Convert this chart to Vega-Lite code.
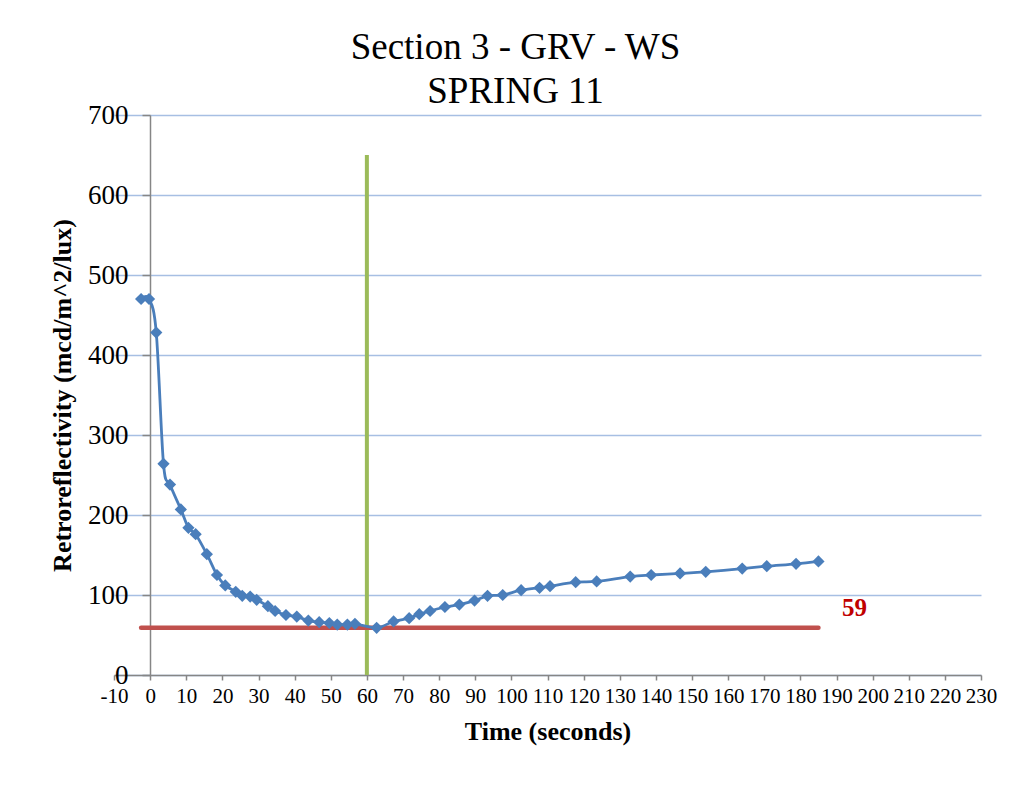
{
  "$schema": "https://vega.github.io/schema/vega-lite/v6.json",
  "width": 867,
  "height": 560,
  "autosize": {"type": "none"},
  "padding": {"left": 114, "top": 115, "right": 32, "bottom": 110},
  "background": "white",
  "config": {"font": "Liberation Serif", "view": {"stroke": null}},
  "title": {
    "text": ["Section 3 - GRV - WS", "SPRING 11"],
    "fontSize": 37,
    "fontWeight": "normal",
    "lineHeight": 44,
    "color": "black",
    "anchor": "middle",
    "dx": -32,
    "offset": -10
  },
  "datasets": {
    "curve": [
      {"t": -2.5, "v": 470}, {"t": -0.3, "v": 470}, {"t": 1.7, "v": 428}, {"t": 3.7, "v": 264},
      {"t": 5.5, "v": 238}, {"t": 8.5, "v": 207}, {"t": 10.6, "v": 184}, {"t": 12.6, "v": 176},
      {"t": 15.7, "v": 151}, {"t": 18.5, "v": 125}, {"t": 20.8, "v": 112}, {"t": 23.7, "v": 104},
      {"t": 25.5, "v": 99}, {"t": 27.7, "v": 98}, {"t": 29.5, "v": 94}, {"t": 32.6, "v": 86},
      {"t": 34.6, "v": 80}, {"t": 37.6, "v": 75}, {"t": 40.6, "v": 73}, {"t": 43.8, "v": 68},
      {"t": 46.8, "v": 66}, {"t": 49.6, "v": 65}, {"t": 51.8, "v": 63}, {"t": 54.6, "v": 63},
      {"t": 56.7, "v": 64}, {"t": 62.7, "v": 59}, {"t": 67.4, "v": 67}, {"t": 71.7, "v": 71},
      {"t": 74.5, "v": 76}, {"t": 77.5, "v": 80}, {"t": 81.6, "v": 85}, {"t": 85.6, "v": 88},
      {"t": 89.8, "v": 93}, {"t": 93.4, "v": 99}, {"t": 97.6, "v": 100}, {"t": 102.7, "v": 106},
      {"t": 107.8, "v": 109}, {"t": 110.7, "v": 111}, {"t": 117.8, "v": 116}, {"t": 123.6, "v": 117},
      {"t": 132.9, "v": 123}, {"t": 138.7, "v": 125}, {"t": 146.7, "v": 127}, {"t": 153.8, "v": 129},
      {"t": 163.9, "v": 133}, {"t": 170.7, "v": 136}, {"t": 178.8, "v": 139}, {"t": 185, "v": 142}
    ],
    "thresh": [{"t": -2.5, "t2": 185, "v": 59}],
    "vline": [{"t": 60, "v": 0, "v2": 650}],
    "label": [{"t": 195, "v": 84, "txt": "59"}]
  },
  "layer": [
    {
      "data": {"name": "vline"},
      "mark": {"type": "rule", "color": "#9BBB59", "strokeWidth": 4},
      "encoding": {
        "x": {
          "field": "t", "type": "quantitative",
          "scale": {"domain": [-10, 230], "nice": false, "zero": false},
          "axis": {
            "title": "Time (seconds)",
            "titleFontSize": 26, "titleFontWeight": "bold", "titleColor": "black", "titlePadding": 12,
            "values": [-10, 0, 10, 20, 30, 40, 50, 60, 70, 80, 90, 100, 110, 120, 130, 140, 150, 160, 170, 180, 190, 200, 210, 220, 230],
            "tickCount": 30,
            "labelExpr": "toString(datum.value)",
            "labelFontSize": 21, "labelColor": "black", "labelPadding": 5, "labelOverlap": false, "labelFlush": false,
            "tickSize": 5, "tickColor": "#868686", "domainColor": "#868686", "domainWidth": 1.5, "tickWidth": 1.5,
            "grid": false
          }
        },
        "y": {
          "field": "v", "type": "quantitative",
          "scale": {"domain": [0, 700], "nice": false},
          "axis": {
            "title": "Retroreflectivity (mcd/m^2/lux)",
            "titleFontSize": 26, "titleFontWeight": "bold", "titleColor": "black", "titlePadding": 12,
            "values": [0, 100, 200, 300, 400, 500, 600, 700],
            "tickCount": 10,
            "labelFontSize": 27, "labelColor": "black", "labelPadding": 14, "labelFlush": false,
            "offset": -36,
            "tickSize": 8, "tickColor": "#868686", "domainColor": "#868686", "domainWidth": 1.5, "tickWidth": 1.5,
            "grid": true, "gridColor": "#A7BFE3", "gridWidth": 1.5
          }
        },
        "y2": {"field": "v2"}
      }
    },
    {
      "data": {"name": "thresh"},
      "mark": {"type": "rule", "color": "#C0504D", "strokeWidth": 4.5, "strokeCap": "round"},
      "encoding": {
        "x": {"field": "t", "type": "quantitative"},
        "x2": {"field": "t2"},
        "y": {"field": "v", "type": "quantitative"}
      }
    },
    {
      "data": {"name": "curve"},
      "mark": {"type": "line", "color": "#4A7EBB", "strokeWidth": 2.8, "interpolate": "cardinal"},
      "encoding": {
        "x": {"field": "t", "type": "quantitative"},
        "y": {"field": "v", "type": "quantitative"}
      }
    },
    {
      "data": {"name": "curve"},
      "mark": {"type": "point", "shape": "diamond", "filled": true, "size": 150, "color": "#4A7EBB", "opacity": 1},
      "encoding": {
        "x": {"field": "t", "type": "quantitative"},
        "y": {"field": "v", "type": "quantitative"}
      }
    },
    {
      "data": {"name": "label"},
      "mark": {"type": "text", "color": "#C00000", "fontSize": 25, "fontWeight": "bold", "align": "center", "baseline": "middle"},
      "encoding": {
        "x": {"field": "t", "type": "quantitative"},
        "y": {"field": "v", "type": "quantitative"},
        "text": {"field": "txt"}
      }
    }
  ]
}
